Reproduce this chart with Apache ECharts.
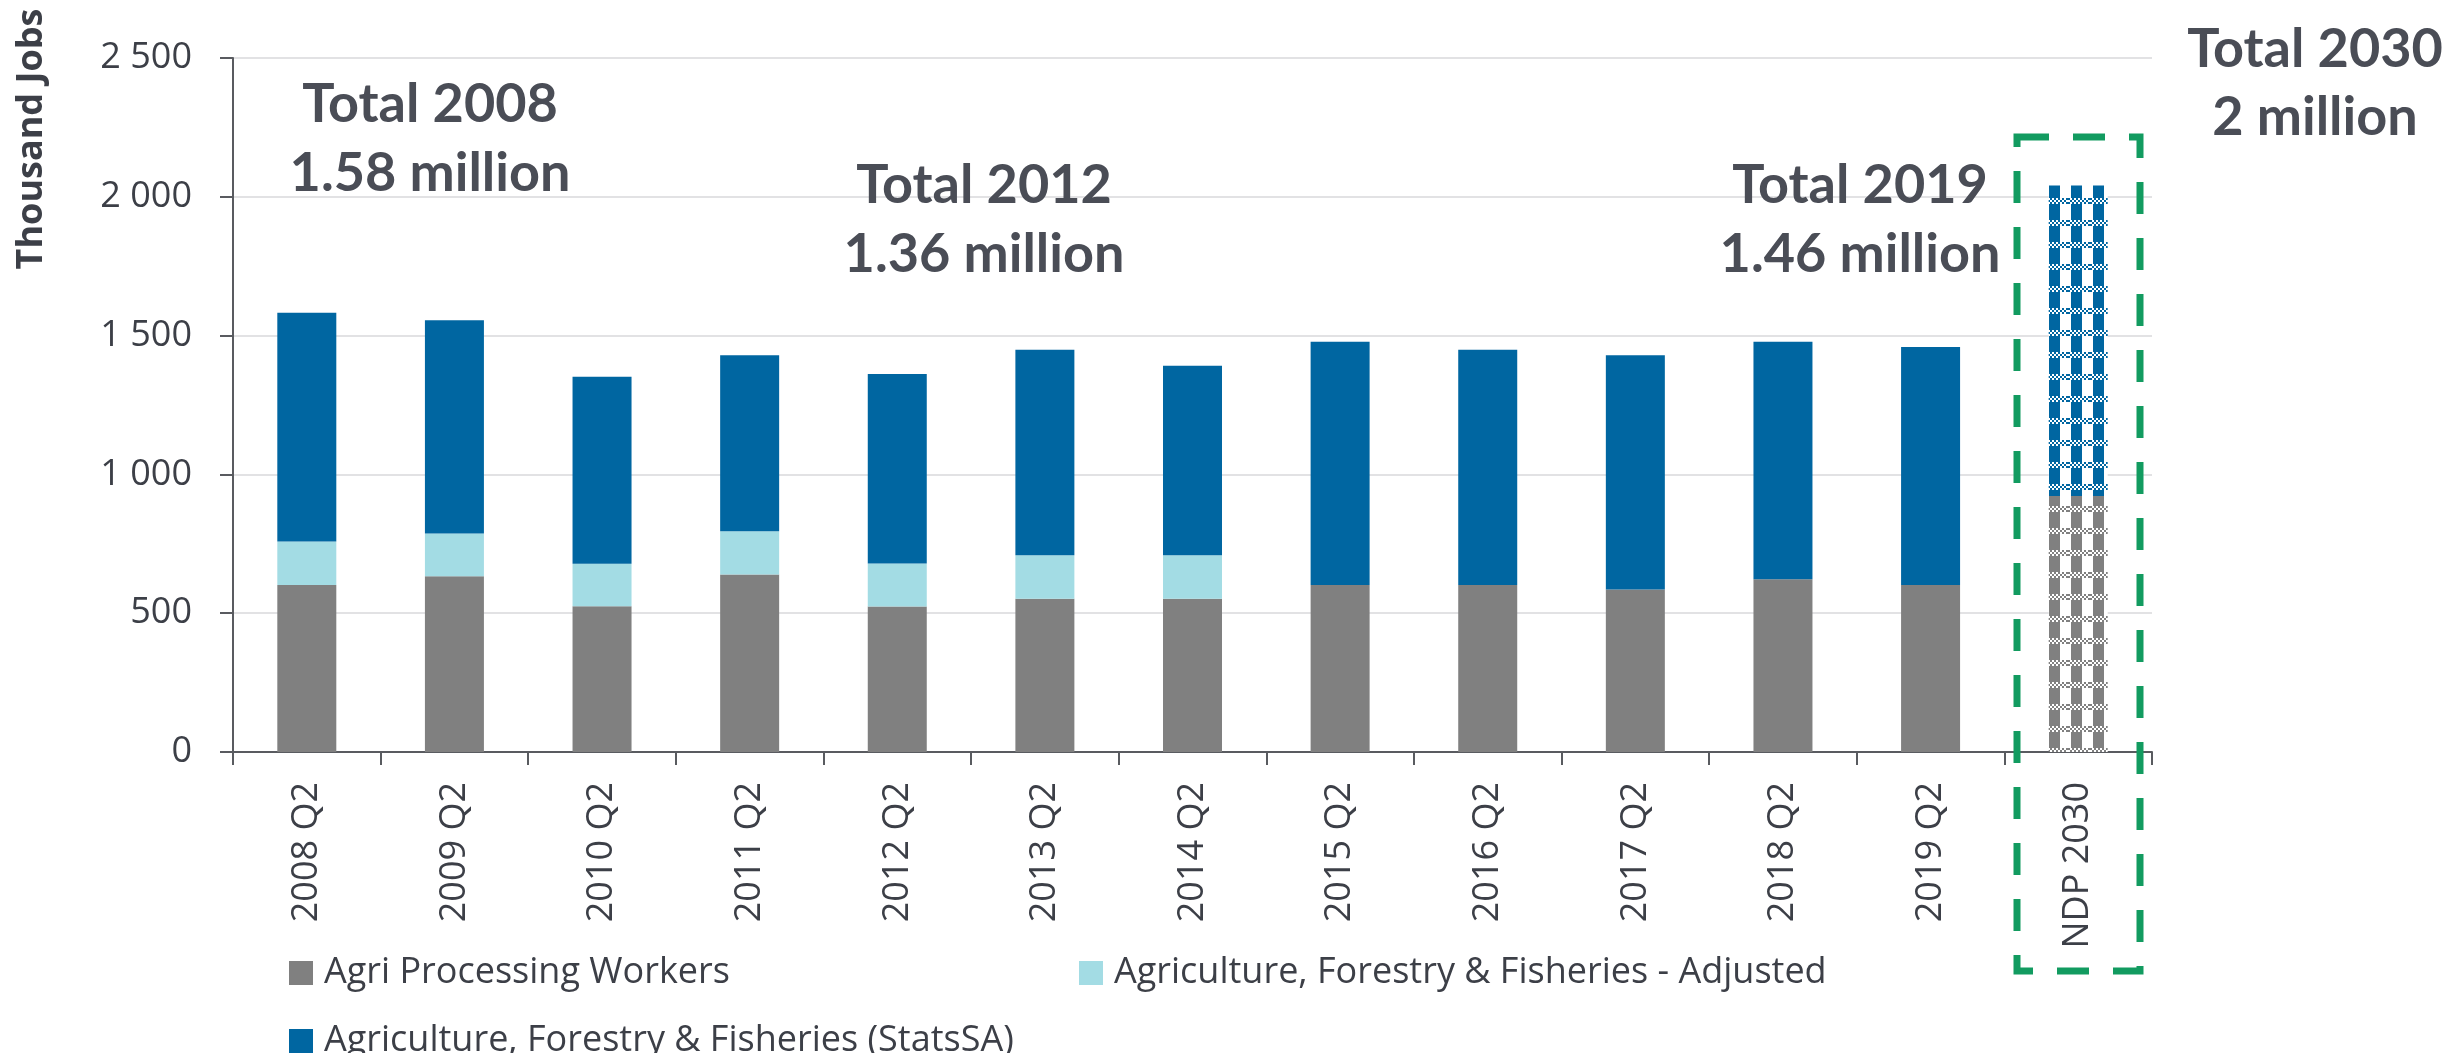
<!DOCTYPE html>
<html>
<head>
<meta charset="utf-8">
<script src="https://cdn.jsdelivr.net/npm/echarts@6/dist/echarts.min.js"></script>
<style>
html,body{margin:0;padding:0;background:#fff;}
#main{width:2463px;height:1053px;}
</style>
</head>
<body>
<div id="main"></div>
<script>
var categories = ['2008 Q2','2009 Q2','2010 Q2','2011 Q2','2012 Q2','2013 Q2','2014 Q2','2015 Q2','2016 Q2','2017 Q2','2018 Q2','2019 Q2','NDP 2030'];
var agriProcessing = [602, 633, 525, 639, 524, 552, 552, 602, 602, 585, 622, 602, 922];
var affAdjusted = [156, 154, 153, 156, 155, 157, 157, null, null, null, null, null, null];
var affStatsSA = [824, 768, 674, 634, 683, 740, 682, 876, 847, 844, 856, 857, 1119];
var seriesNames = ['Agri Processing Workers', 'Agriculture, Forestry & Fisheries - Adjusted', 'Agriculture, Forestry & Fisheries (StatsSA)'];
var yTicks = [0, 500, 1000, 1500, 2000, 2500];
var projectedCategory = 'NDP 2030';
var annotations = [
  ['Total 2008', '1.58 million'],
  ['Total 2012', '1.36 million'],
  ['Total 2019', '1.46 million'],
  ['Total 2030', '2 million']
];

var GRAY = '#808080', LIGHT = '#A3DCE4', BLUE = '#0066A1';
var TXT = '#3c3f47', TITLE = '#4a4d56';

function gingham(col) {
  var c = document.createElement('canvas');
  c.width = 22; c.height = 22;
  var g = c.getContext('2d');
  g.fillStyle = '#ffffff';
  g.fillRect(0, 0, 22, 22);
  g.fillStyle = col;
  g.fillRect(3, 0, 11, 22);
  g.fillStyle = '#ffffff';
  g.fillRect(0, 0, 22, 6);
  g.fillStyle = col;
  for (var y = 0; y < 6; y += 2) {
    for (var x = 0; x < 22; x += 4) {
      var off = ((y / 2) % 2) * 2;
      g.fillRect(x + off, y, 2, 2);
    }
  }
  return { image: c, repeat: 'repeat' };
}

var patternFor = [gingham(GRAY), gingham(LIGHT), gingham(BLUE)];

function withPattern(arr, k) {
  return arr.map(function (v, i) {
    if (categories[i] === projectedCategory && v != null) {
      return { value: v, itemStyle: { color: patternFor[k] } };
    }
    return v;
  });
}

function fmt(v) { return String(v).replace(/\B(?=(\d{3})+(?!\d))/g, ' '); }

var chart = echarts.init(document.getElementById('main'), null, { renderer: 'canvas' });

var legendBase = {
  orient: 'horizontal', itemWidth: 24, itemHeight: 24, selectedMode: false,
  padding: 0, icon: 'rect',
  textStyle: { fontFamily: 'Open Sans', fontSize: 36, color: TXT, lineHeight: 24, padding: [0, 0, 0, 6] }
};

function titleLines(texts, cx, y1, y2) {
  return [
    { type: 'text', z: 50, x: cx, y: y1, style: { text: texts[0], font: 'bold 54px Lato', fill: TITLE, textAlign: 'center', textVerticalAlign: 'middle' } },
    { type: 'text', z: 50, x: cx, y: y2, style: { text: texts[1], font: 'bold 54px Lato', fill: TITLE, textAlign: 'center', textVerticalAlign: 'middle' } }
  ];
}

var graphics = [].concat(
  titleLines(annotations[0], 430, 105, 174),
  titleLines(annotations[1], 984, 186, 255),
  titleLines(annotations[2], 1860, 186, 255),
  titleLines(annotations[3], 2315, 50, 118),
  [
    { type: 'text', z: 50, x: 32, y: 139, rotation: Math.PI / 2,
      style: { text: 'Thousand Jobs', font: 'bold 36px "Open Sans"', fill: TXT, textAlign: 'center', textVerticalAlign: 'middle' } },
    { type: 'rect', z: 100, shape: { x: 2017, y: 137, width: 123, height: 834 },
      style: { fill: 'none', stroke: '#129B60', lineWidth: 7, lineDash: [32, 24] } }
  ]
);

var option = {
  backgroundColor: '#ffffff',
  animation: false,
  grid: { left: 233, top: 58, width: 1919, height: 694, containLabel: false },
  legend: [
    Object.assign({}, legendBase, { left: 289, top: 955, data: [seriesNames[0]] }),
    Object.assign({}, legendBase, { left: 1079, top: 955, data: [seriesNames[1]] }),
    Object.assign({}, legendBase, { left: 289, top: 1023, data: [seriesNames[2]] })
  ],
  xAxis: {
    type: 'category', data: categories, boundaryGap: true,
    axisLine: { lineStyle: { color: '#595b60', width: 2 } },
    axisTick: { show: true, length: 13, inside: false, lineStyle: { color: '#595b60', width: 2 } },
    axisLabel: { rotate: 90, margin: 30, fontFamily: 'Open Sans', fontSize: 36, color: TXT, interval: 0 },
    splitLine: { show: false }
  },
  yAxis: {
    type: 'value', min: yTicks[0], max: yTicks[yTicks.length - 1], interval: yTicks[1] - yTicks[0],
    axisLine: { show: true, lineStyle: { color: '#595b60', width: 2 } },
    axisTick: { show: true, length: 13, lineStyle: { color: '#595b60', width: 2 } },
    axisLabel: { margin: 41, fontFamily: 'Open Sans', fontSize: 36, color: TXT, formatter: fmt },
    splitLine: { show: true, lineStyle: { color: '#e2e2e4', width: 2 } }
  },
  series: [
    { name: seriesNames[0], type: 'bar', stack: 'total', barWidth: 59, itemStyle: { color: GRAY }, data: withPattern(agriProcessing, 0) },
    { name: seriesNames[1], type: 'bar', stack: 'total', barWidth: 59, itemStyle: { color: LIGHT }, data: withPattern(affAdjusted, 1) },
    { name: seriesNames[2], type: 'bar', stack: 'total', barWidth: 59, itemStyle: { color: BLUE }, data: withPattern(affStatsSA, 2) }
  ],
  graphic: graphics
};

chart.setOption(option);
</script>
</body>
</html>
